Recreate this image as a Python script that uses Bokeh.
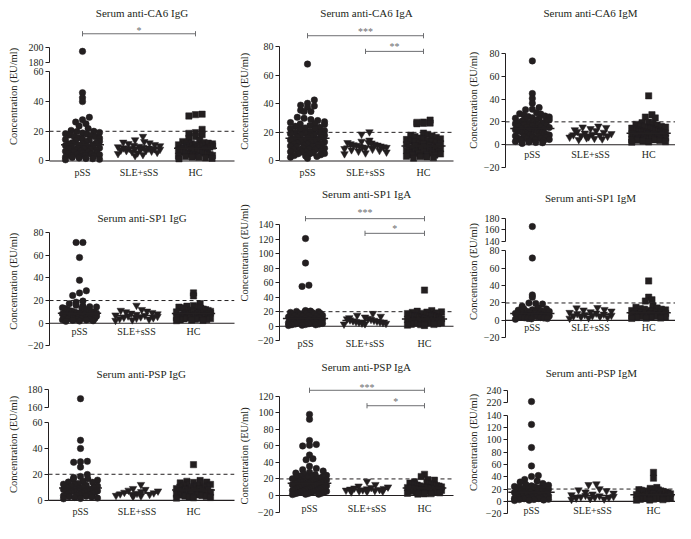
import numpy as np
from math import gcd
from bokeh.plotting import figure
from bokeh.layouts import row, column
from bokeh.models import FixedTicker, Span, Range1d
from bokeh.core.properties import value
from bokeh.embed import file_html
from bokeh.resources import INLINE

GROUPS = ["pSS", "SLE+sSS", "HC"]
MARKERS = ["circle", "inverted_triangle", "square"]
Y_LABEL = "Concentration (EU/ml)"
CUTOFF = 20

# ---------------- data (EU/ml) ----------------
CA6_IGG_PSS = [194.7, 46.0, 42.6, 40.0, 29.4, 27.7, 26.2, 25.0, 23.5, 21.8,
               20.6, 20.0, 19.8, 19.2, 18.9, 18.3, 18.1, 17.5, 17.2, 16.6, 16.3, 15.7, 15.4, 14.8,
               14.5, 14.1, 13.7, 13.2, 12.9, 12.3, 12.1, 11.6, 11.4, 10.9, 10.6, 10.4, 9.9, 9.6,
               9.4, 8.9, 8.7, 8.3, 8.0, 7.8, 7.4, 7.1, 6.9, 6.5, 6.2, 6.0, 5.6, 5.3, 5.1, 4.7, 4.4,
               4.2, 3.8, 3.5, 3.3, 2.9, 2.6, 2.4, 2.0, 1.7, 1.5, 1.1, 0.8]
CA6_IGG_SLE = [16.5, 14.2, 13.0, 12.6, 12.1, 11.6, 11.0, 10.5, 10.2, 9.8, 9.5, 9.1, 8.8, 8.6, 8.5,
               8.2, 8.0, 7.8, 7.5, 7.2, 7.0, 6.9, 6.6, 6.2, 5.8, 5.4, 4.9, 4.3, 3.6]
CA6_IGG_HC = [31.2, 30.3, 31.5, 21.3, 19.1, 18.6, 17.8, 16.5, 15.2, 14.0, 13.1,
              12.4, 12.2, 12.0, 11.7, 11.5, 11.2, 10.9, 10.6, 10.4, 10.1, 9.8, 9.6, 9.3, 9.0, 8.8,
              8.5, 8.2, 8.0, 7.7, 7.4, 7.2, 6.9, 6.6, 6.4, 6.1, 5.8, 5.6, 5.3, 5.0, 4.8, 4.5, 4.2,
              4.0, 3.7, 3.4, 3.2, 2.9, 2.6, 2.4, 2.1, 1.8, 1.5]

CA6_IGA_PSS = [67.7, 42.6, 40.3, 39.0, 38.5, 37.5, 35.4, 34.6, 34.6, 30.5, 29.8, 28.9, 28.2, 27.4, 26.8,
               26.1, 25.8, 25.5, 24.8, 24.2, 23.6, 23.0, 22.7, 22.4, 21.9, 21.2, 20.6, 20.1, 19.8,
               19.5, 19.0, 18.4, 18.1, 17.9, 17.3, 16.8, 16.5, 16.2, 15.7, 15.1, 14.8, 14.6, 14.0,
               13.5, 13.3, 13.1, 12.6, 12.1, 11.9, 11.6, 11.1, 10.7, 10.4, 10.2, 9.8, 9.3, 9.0, 8.9,
               8.4, 8.0, 7.8, 7.5, 7.1, 6.6, 6.4, 6.2, 5.7, 5.3, 5.0, 4.8, 4.3, 3.8, 3.5, 3.2, 2.6,
               1.9]
CA6_IGA_SLE = [20.3, 18.7, 14.5, 13.7, 13.0, 12.8, 12.5, 12.0, 11.6, 11.2, 11.0, 10.8, 10.4, 10.1,
               9.8, 9.6, 9.4, 9.0, 8.6, 8.2, 7.8, 7.3, 6.8, 6.2, 5.6, 5.0]
CA6_IGA_HC = [28.6, 27.2, 26.5, 26.3, 26.0, 27.0, 19.5, 18.6, 18.0, 17.5, 17.0, 16.5, 16.0, 15.5, 15.2,
              15.0, 14.4, 13.9, 13.6, 13.4, 12.9, 12.4, 12.1, 11.9, 11.4, 10.9, 10.6, 10.4, 9.9, 9.4,
              9.2, 8.9, 8.5, 8.4, 8.1, 7.9, 7.7, 7.3, 6.9, 6.7, 6.5, 6.1, 5.7, 5.5, 5.3, 4.9, 4.5,
              4.3, 4.1, 3.7, 3.3, 3.0, 2.8, 2.3, 2.0]

CA6_IGM_PSS = [73.4, 44.8, 40.5, 36.2, 32.5, 31.0, 30.6, 28.0, 27.2, 26.8, 25.9, 25.1, 24.7, 24.3, 23.6,
               23.2, 22.9, 22.1, 21.7, 21.4, 20.7, 20.3, 20.0, 19.4, 19.0, 18.7, 18.1, 17.7, 17.4,
               16.8, 16.5, 16.2, 15.6, 15.3, 15.0, 14.4, 14.1, 13.8, 13.2, 13.0, 12.7, 12.1, 11.9,
               11.6, 11.0, 10.8, 10.5, 10.0, 9.7, 9.4, 8.9, 8.7, 8.4, 7.8, 7.6, 7.3, 6.8, 6.5, 6.2,
               5.7, 5.4, 5.1, 4.6, 4.3, 4.0, 3.5, 3.2, 2.9, 2.3, 2.0, 1.7, 1.1]
CA6_IGM_SLE = [16.2, 15.4, 15.0, 14.0, 13.0, 12.2, 11.5, 10.8, 10.1, 9.6, 9.1, 8.6, 8.1, 7.7, 7.3, 6.9,
               6.5, 6.0, 5.5, 5.0, 4.4]
CA6_IGM_HC = [42.8, 26.2, 24.2, 23.4, 19.7, 19.2, 18.5, 17.8, 17.2, 16.6, 16.0, 15.7, 15.4, 14.8, 14.5,
              14.2, 13.6, 13.3, 13.1, 12.5, 12.2, 12.0, 11.5, 11.2, 11.0, 10.5, 10.2, 10.0, 9.5, 9.3,
              9.1, 8.6, 8.4, 8.2, 7.8, 7.6, 7.4, 7.0, 6.8, 6.6, 6.2, 6.0, 5.8, 5.4, 5.2, 5.0, 4.6,
              4.4, 4.2, 3.7, 3.5, 3.2, 2.7, 2.5, 2.2]

SP1_IGG_PSS = [71.1, 71.1, 57.9, 37.9, 28.6, 26.7, 24.4, 19.5, 18.6, 17.2, 15.8, 15.1, 14.6, 14.3, 13.6,
               13.1, 12.9, 12.3, 11.9, 11.7, 11.1, 10.8, 10.6, 10.1, 9.8, 9.6, 9.1, 8.9, 8.6, 8.2,
               8.0, 7.8, 7.4, 7.2, 7.0, 6.6, 6.4, 6.2, 5.8, 5.7, 5.5, 5.1, 5.0, 4.8, 4.4, 4.3, 4.1,
               3.7, 3.6, 3.4, 3.0, 2.8, 2.6, 2.2, 2.0, 1.7]
SP1_IGG_SLE = [15.8, 12.0, 11.3, 10.6, 10.0, 9.4, 8.8, 8.2, 7.7, 7.2, 6.8, 6.4, 6.0, 5.6, 5.2, 4.8, 4.4,
               4.0, 3.5, 3.0, 2.5]
SP1_IGG_HC = [26.7, 24.1, 17.2, 15.6, 15.0, 14.5, 14.2, 14.0, 13.5, 13.2, 13.0, 12.5, 12.2, 12.0, 11.5,
              11.2, 11.0, 10.5, 10.2, 10.0, 9.5, 9.2, 9.0, 8.5, 8.2, 8.0, 7.5, 7.3, 7.1, 6.7, 6.5,
              6.3, 5.9, 5.7, 5.5, 5.1, 4.9, 4.7, 4.3, 4.1, 3.9, 3.5, 3.3, 3.1, 2.7, 2.5, 2.3]

SP1_IGA_PSS = [120.7, 87.0, 56.5, 54.8, 21.5, 20.8, 20.4, 19.9, 19.2, 19.0, 18.5, 17.8, 17.5, 17.1, 16.4,
               16.0, 15.6, 14.9, 14.5, 14.2, 13.5, 13.1, 12.8, 12.1, 11.8, 11.5, 10.9, 10.5, 10.3,
               9.7, 9.3, 9.1, 8.5, 8.2, 7.9, 7.4, 7.1, 6.9, 6.4, 6.1, 5.9, 5.4, 5.1, 4.9, 4.4, 4.1,
               3.9, 3.4, 3.1, 2.9, 2.4, 2.1, 1.9, 1.4, 1.0]
SP1_IGA_SLE = [17.5, 15.0, 13.5, 12.5, 11.6, 10.8, 10.0, 9.3, 8.6, 8.0, 7.4, 6.8, 6.3, 5.8, 5.3, 4.8,
               4.3, 3.8, 3.3, 2.8]
SP1_IGA_HC = [49.8, 21.5, 20.6, 19.8, 19.4, 19.0, 18.2, 17.8, 17.4, 16.6, 16.2, 15.8, 15.0, 14.6, 14.2,
              13.4, 13.0, 12.6, 11.8, 11.4, 11.0, 10.3, 9.9, 9.6, 8.9, 8.5, 8.2, 7.5, 7.2, 6.9, 6.3,
              6.0, 5.7, 5.1, 4.8, 4.5, 3.9, 3.6, 3.3, 2.7, 2.4, 2.1, 1.5, 1.0]

SP1_IGM_PSS = [166.0, 71.8, 29.3, 26.7, 19.9, 19.5, 18.8, 16.2, 14.5, 13.2, 13.0, 12.1, 11.7, 11.2, 10.4,
               10.3, 9.7, 9.2, 9.0, 8.4, 8.0, 7.8, 7.2, 7.0, 6.7, 6.2, 6.0, 5.7, 5.2, 5.0, 4.7, 4.2,
               4.0, 3.7, 3.2, 3.0, 2.7, 2.2, 2.0, 1.7, 1.2]
SP1_IGM_SLE = [14.6, 14.2, 12.4, 11.8, 10.6, 9.8, 9.0, 8.3, 7.6, 7.0, 6.4, 5.8, 5.3, 4.8, 4.3, 3.8, 3.3,
               2.8, 2.3]
SP1_IGM_HC = [45.4, 26.7, 23.7, 22.2, 16.5, 15.0, 14.2, 13.5, 12.8, 12.8, 12.0, 11.4, 11.3, 10.6, 10.0,
              9.9, 9.2, 8.8, 8.6, 8.0, 7.6, 7.4, 6.8, 6.5, 6.2, 5.7, 5.5, 5.2, 4.7, 4.5, 4.2, 3.7,
              3.5, 3.2, 2.7, 2.5, 2.2]

PSP_IGG_PSS = [169.8, 46.1, 39.8, 29.6, 29.2, 29.9, 25.5, 19.8, 18.3, 17.5, 16.5, 15.8, 15.5, 14.6, 14.0,
               13.8, 13.0, 12.4, 12.2, 11.5, 11.0, 10.8, 10.1, 9.8, 9.5, 8.9, 8.6, 8.3, 7.7, 7.5,
               7.2, 6.7, 6.5, 6.2, 5.7, 5.5, 5.2, 4.7, 4.5, 4.2, 3.7, 3.5, 3.2, 2.7, 2.5, 2.2, 1.7,
               1.5, 1.2]
PSP_IGG_SLE = [12.1, 9.0, 8.3, 7.7, 7.1, 6.6, 6.1, 5.7, 5.3, 4.9, 4.5, 4.1, 3.7, 3.3, 2.9]
PSP_IGG_HC = [27.4, 15.2, 14.6, 14.0, 13.7, 13.4, 12.8, 12.5, 12.2, 11.6, 11.3, 11.0, 10.4, 10.1, 9.8,
              9.2, 9.0, 8.7, 8.2, 8.0, 7.7, 7.2, 7.0, 6.7, 6.2, 6.0, 5.7, 5.2, 5.0, 4.7, 4.2, 4.0,
              3.7, 3.2, 3.0, 2.7, 2.2, 2.0, 1.7]

PSP_IGA_PSS = [97.9, 92.0, 66.4, 61.7, 60.6, 59.8, 48.9, 44.3, 43.1, 35.3, 32.6, 31.2, 29.5, 28.0, 27.1,
               26.0, 25.2, 24.3, 23.5, 23.4, 22.6, 21.8, 21.5, 21.0, 20.2, 19.7, 19.4, 18.6, 17.9,
               17.8, 17.1, 16.4, 16.2, 15.7, 15.0, 14.6, 14.3, 13.6, 13.0, 12.9, 12.3, 11.7, 11.4,
               11.1, 10.5, 9.9, 9.9, 9.3, 8.7, 8.4, 8.1, 7.6, 7.1, 6.9, 6.6, 6.1, 5.6, 5.4, 5.1, 4.6,
               4.1, 3.9, 3.6, 3.1, 2.6, 2.4, 2.1, 1.6, 1.5, 1.1]
PSP_IGA_SLE = [17.0, 13.2, 11.3, 10.2, 9.5, 8.9, 8.4, 7.9, 7.5, 7.1, 6.7, 6.3, 5.9, 5.5, 5.1, 4.7, 4.3]
PSP_IGA_HC = [25.6, 22.9, 19.0, 18.5, 16.5, 15.6, 15.0, 14.4, 13.9, 13.8, 13.2, 12.7, 12.6, 12.0, 11.5,
              11.4, 10.8, 10.3, 10.2, 9.6, 9.1, 9.0, 8.4, 8.0, 7.8, 7.2, 7.0, 6.7, 6.2, 6.0, 5.7,
              5.2, 5.0, 4.7, 4.2, 4.0, 3.7, 3.2, 3.0, 2.7, 2.2, 2.0, 1.7]

PSP_IGM_PSS = [222.0, 125.3, 87.6, 57.7, 42.0, 40.4, 35.5, 33.0, 31.5, 29.0, 27.5, 26.3, 25.2, 24.1, 23.5,
               23.0, 22.0, 21.5, 21.0, 20.0, 19.5, 19.0, 18.1, 18.0, 17.2, 16.5, 16.3, 15.4, 15.0,
               14.5, 13.7, 13.5, 12.9, 12.1, 12.0, 11.3, 10.5, 10.5, 9.8, 9.1, 9.0, 8.4, 7.7, 7.5,
               7.0, 6.3, 6.0, 5.6, 4.9, 4.5, 4.2, 3.5, 3.0, 2.8, 2.1, 1.8, 1.4]
PSP_IGM_SLE = [28.3, 27.2, 20.4, 18.5, 17.2, 15.0, 13.2, 11.8, 10.6, 9.6, 8.7, 7.9, 7.2, 6.5, 5.8, 5.1,
               4.4, 3.7, 3.0]
PSP_IGM_HC = [47.2, 37.7, 22.5, 21.0, 20.0, 19.0, 18.5, 18.0, 17.0, 16.8, 16.0, 15.2, 15.0, 14.0, 13.6,
              13.0, 12.2, 12.0, 11.0, 10.8, 10.0, 9.5, 9.1, 8.3, 8.2, 7.5, 7.0, 6.7, 5.9, 5.8, 5.1,
              4.6, 4.3, 3.5, 3.4, 2.7, 2.2, 1.9]

TICKS_0_60 = [0, 20, 40, 60]
TICKS_0_80 = [0, 20, 40, 60, 80]
TICKS_M20_80 = [-20, 0, 20, 40, 60, 80]
TICKS_M20_120 = [-20, 0, 20, 40, 60, 80, 100, 120]
TICKS_M20_140 = [-20, 0, 20, 40, 60, 80, 100, 120, 140]

# ---------------- style / layout ----------------
FONT = "Liberation Serif"
INK = "#231f20"
GREY = "#6d6e71"
SIZES = [6.5, 7.5, 6.3]
HALF_PX = [17, 21, 17]
MAX_X = 675

# vertical placement: reference rows [R0, R1] are placed at [M0, M1] in the page
ROW_R0 = [0, 186, 364]
ROW_R1 = [186, 364, 537]
ROW_M0 = [0, 182, 356]
ROW_M1 = [182, 356, 523]
COL_X0 = [0, 236, 466]
COL_X1 = [236, 466, 675]
LABEL_W = [20, 16, 14]
LABEL_X = [12.5, 8, 7]
TITLE_GAP = 6

PANELS = [
    dict(title="Serum anti-CA6 IgG", r=0, c=0, data=(CA6_IGG_PSS, CA6_IGG_SLE, CA6_IGG_HC),
         title_y=13, label_y=98, axis_x=49, right_x=234, cats=(82, 195),
         top=dict(lo=180, hi=200, ticks=[180, 200], v0=200, p0=48, k=0.75), split=68,
         main=dict(lo=0, hi=60, ticks=TICKS_0_60, v0=0, p0=164, k=1.517), label_off=6,
         bars=[(1, 3, 34, 28, "*")]),
    dict(title="Serum anti-CA6 IgA", r=0, c=1, data=(CA6_IGA_PSS, CA6_IGA_SLE, CA6_IGA_HC),
         title_y=13, label_y=103, axis_x=279, right_x=453, cats=(307, 423),
         main=dict(lo=0, hi=80, ticks=TICKS_0_80, v0=80, p0=47, k=1.4625), label_off=6,
         bars=[(1, 3, 36, 29, "***"), (2, 3, 52, 44, "**")]),
    dict(title="Serum anti-CA6 IgM", r=0, c=2, data=(CA6_IGM_PSS, CA6_IGM_SLE, CA6_IGM_HC),
         title_y=13, label_y=102, axis_x=504, right_x=678, cats=(531, 648),
         main=dict(lo=-20, hi=80, ticks=TICKS_M20_80, v0=80, p0=54, k=1.167), label_off=4, bars=[]),
    dict(title="Serum anti-SP1 IgG", r=1, c=0, data=(SP1_IGG_PSS, SP1_IGG_SLE, SP1_IGG_HC),
         title_y=223, label_y=287, axis_x=49, right_x=234, cats=(79, 193),
         main=dict(lo=-20, hi=80, ticks=TICKS_M20_80, v0=80, p0=237, k=1.1625), label_off=3, bars=[]),
    dict(title="Serum anti-SP1 IgA", r=1, c=1, data=(SP1_IGA_PSS, SP1_IGA_SLE, SP1_IGA_HC),
         title_y=198, label_y=258, axis_x=279, right_x=453, cats=(305, 424),
         main=dict(lo=-20, hi=140, ticks=TICKS_M20_140, v0=140, p0=229, k=0.743), label_off=12,
         bars=[(1, 3, 223, 214, "***"), (2, 3, 238, 230, "*")]),
    dict(title="Serum anti-SP1 IgM", r=1, c=2, data=(SP1_IGM_PSS, SP1_IGM_SLE, SP1_IGM_HC),
         title_y=202, label_y=277, axis_x=504, right_x=678, cats=(531, 648),
         top=dict(lo=140, hi=180, ticks=[140, 160, 180], v0=180, p0=223, k=0.575), split=251,
         main=dict(lo=-20, hi=80, ticks=TICKS_M20_80, v0=80, p0=256, k=0.8875), label_off=2, bars=[]),
    dict(title="Serum anti-PSP IgG", r=2, c=0, data=(PSP_IGG_PSS, PSP_IGG_SLE, PSP_IGG_HC),
         title_y=383, label_y=455, axis_x=48, right_x=234, cats=(80, 193),
         top=dict(lo=160, hi=180, ticks=[160, 180], v0=180, p0=398, k=0.95), split=425,
         main=dict(lo=0, hi=60, ticks=TICKS_0_60, v0=60, p0=432, k=1.35), label_off=6, bars=[]),
    dict(title="Serum anti-PSP IgA", r=2, c=1, data=(PSP_IGA_PSS, PSP_IGA_SLE, PSP_IGA_HC),
         title_y=375, label_y=467, axis_x=279, right_x=453, cats=(309, 424),
         main=dict(lo=-20, hi=120, ticks=TICKS_M20_120, v0=120, p0=405, k=0.8583), label_off=7,
         bars=[(1, 3, 399, 393, "***"), (2, 3, 415, 408, "*")]),
    dict(title="Serum anti-PSP IgM", r=2, c=2, data=(PSP_IGM_PSS, PSP_IGM_SLE, PSP_IGM_HC),
         title_y=382, label_y=453, axis_x=507, right_x=683, cats=(531, 653),
         top=dict(lo=220, hi=240, ticks=[220, 240], v0=240, p0=399, k=0.65), split=419,
         main=dict(lo=-20, hi=140, ticks=TICKS_M20_140, v0=140, p0=425, k=0.636), label_off=4, bars=[]),
]


def slot_order(n):
    s = max(1, int(round(n * 0.38)))
    while gcd(s, n) != 1:
        s += 1
    return [(i * s) % n for i in range(n)]


def swarm_offsets(vals, k_y, kx, size_px, half_px):
    vals = np.asarray(vals, dtype=float)
    offs = np.zeros(len(vals))
    if len(vals) == 0:
        return offs
    bin_h = 0.9 * size_px / k_y
    bins = np.floor((vals + 100.0) / bin_h).astype(int)
    for b in np.unique(bins):
        idx = np.where(bins == b)[0]
        idx = idx[np.argsort(vals[idx])]
        n = len(idx)
        if n > 1:
            step = min(size_px * 1.05, 2.0 * half_px / (n - 1))
            slots = (np.arange(n) - (n - 1) / 2.0) * step / kx
            order = slot_order(n)
            for i, j in enumerate(idx):
                offs[j] = slots[order[i]]
    return offs


def style_yaxis(p, seg):
    ax = p.yaxis[0]
    ax.ticker = FixedTicker(ticks=seg["ticks"])
    ax.bounds = (seg["lo"], seg["hi"])
    ax.major_tick_out = 4
    ax.major_tick_in = 0
    ax.minor_tick_line_color = None
    ax.major_label_standoff = 2
    ax.major_label_text_font = FONT
    ax.major_label_text_font_size = "10px"
    ax.major_label_text_color = INK
    ax.axis_line_color = INK
    ax.major_tick_line_color = INK


def build_panel(sp):
    r, c = sp["r"], sp["c"]
    sy = (ROW_M1[r] - ROW_M0[r]) / (ROW_R1[r] - ROW_R0[r])
    H = ROW_M1[r] - ROW_M0[r]
    W = COL_X1[c] - COL_X0[c]
    x0 = COL_X0[c]

    def rel(ref_y):
        return (ref_y - ROW_R0[r]) * sy

    lw = LABEL_W[c]
    fig_w = W - lw
    axis_x = sp["axis_x"]
    right_x = min(sp["right_x"], MAX_X)
    left = axis_x - x0 - lw
    right = W - (right_x - x0)
    frame_w = fig_w - left - right
    c1, c3 = sp["cats"]
    kx = (c3 - c1) / 2.0
    x_start = 1 - (c1 - axis_x) / kx
    x_end = x_start + frame_w / kx

    frame_top = int(round(rel(sp["title_y"]) + TITLE_GAP))
    segs = []
    if "top" in sp:
        s_rel = int(round(rel(sp["split"])))
        segs.append(("top", sp["top"], frame_top, s_rel, s_rel))
        segs.append(("main", sp["main"], s_rel, H, H - s_rel))
    else:
        segs.append(("main", sp["main"], frame_top, H, H))

    figs = {}
    for name, seg, ftop, fbot, fig_h in segs:
        k = seg["k"] * sy
        p0 = rel(seg["p0"])
        y_end = seg["v0"] + (p0 - ftop) / k
        y_start = seg["v0"] - (fbot - p0) / k
        is_first = (name == segs[0][0])
        p = figure(width=fig_w, height=fig_h, x_range=Range1d(x_start, x_end),
                   y_range=Range1d(y_start, y_end), output_backend="svg", toolbar_location=None,
                   x_axis_location="below" if name == "main" else None, y_axis_location="left",
                   min_border_left=left, min_border_right=right,
                   min_border_top=ftop if is_first else 0, min_border_bottom=0)
        p.outline_line_color = None
        p.background_fill_color = "white"
        p.border_fill_color = "white"
        for g in p.grid:
            g.grid_line_color = None
        style_yaxis(p, seg)
        if name == "main":
            xa = p.xaxis[0]
            xa.fixed_location = 0
            xa.ticker = FixedTicker(ticks=[1, 2, 3])
            xa.major_label_overrides = {1: GROUPS[0], 2: GROUPS[1], 3: GROUPS[2]}
            xa.major_tick_out = 0
            xa.major_tick_in = 0
            xa.minor_tick_line_color = None
            xa.major_label_standoff = sp["label_off"]
            xa.major_label_text_font = FONT
            xa.major_label_text_font_size = "10px"
            xa.major_label_text_color = INK
            xa.axis_line_color = None
            if "background_fill_color" in xa.properties():
                xa.background_fill_color = None
            p.add_layout(Span(location=CUTOFF, dimension="width", line_color=INK,
                              line_dash="4 3", line_width=1))
        if is_first:
            p.title.text = sp["title"]
            p.title.align = "center"
            p.title.text_font = FONT
            p.title.text_font_size = "11px"
            p.title.text_font_style = "normal"
            p.title.text_color = INK
            p.title.standoff = 1
            p.title.offset = 0
        figs[name] = (p, seg, k)

    # points
    main_hi = sp["main"]["hi"]
    pm = figs["main"][0]
    for gi, vals in enumerate(sp["data"]):
        vals = np.asarray(vals, dtype=float)
        for name, (p, seg, k) in figs.items():
            mask = vals > main_hi if name == "top" else vals <= main_hi
            v = vals[mask]
            if len(v) == 0:
                continue
            off = swarm_offsets(v, k, kx, SIZES[gi], HALF_PX[gi])
            p.scatter(x=gi + 1 + off, y=v, marker=MARKERS[gi], size=SIZES[gi],
                      fill_color=INK, line_color=INK, line_width=0.5)
        med = float(np.median(vals))
        pm.segment(x0=[gi + 1 - 0.38], y0=[med], x1=[gi + 1 + 0.38], y1=[med],
                   line_color=INK, line_width=1.5)

    # x baseline at zero, across the whole frame
    pm.segment(x0=[x_start], y0=[0], x1=[x_end], y1=[0], line_color=INK, line_width=1.1,
               level="overlay")

    # significance bars
    bar_fig, bseg, bk = figs["top"] if "top" in figs else figs["main"]

    def to_val(py):
        return bseg["v0"] + (rel(bseg["p0"]) - rel(py)) / bk

    for (xa1, xa2, by, syy, txt) in sp["bars"]:
        vb = to_val(by)
        cap = 2.6 / bk
        bar_fig.segment(x0=[xa1, xa1, xa2], y0=[vb, vb - cap, vb - cap],
                        x1=[xa2, xa1, xa2], y1=[vb, vb + cap, vb + cap],
                        line_color=GREY, line_width=1)
        bar_fig.text(x=[(xa1 + xa2) / 2.0], y=[to_val(syy + 3)], text=[txt], text_align="center",
                     text_baseline="middle", text_font=value(FONT), text_font_size="10px",
                     text_color=GREY)

    # y-axis title strip
    lf = figure(width=lw, height=H, x_range=Range1d(0, lw), y_range=Range1d(0, H),
                output_backend="svg", toolbar_location=None, x_axis_location=None,
                y_axis_location=None, min_border_left=0, min_border_right=0,
                min_border_top=0, min_border_bottom=0)
    lf.outline_line_color = None
    for g in lf.grid:
        g.grid_line_color = None
    lf.text(x=[LABEL_X[c]], y=[H - rel(sp["label_y"])], text=[Y_LABEL], angle=np.pi / 2,
            text_align="center", text_baseline="middle", text_font=value(FONT),
            text_font_size="10.5px", text_color=INK)

    stack = [figs[n][0] for n in ("top", "main") if n in figs]
    return row(lf, column(*stack, spacing=0), spacing=0)


rows = []
for r in range(3):
    rows.append(row(*[build_panel(sp) for sp in PANELS if sp["r"] == r], spacing=0))
layout = column(*rows, spacing=0)

open("out.html", "w").write(file_html(layout, INLINE))
